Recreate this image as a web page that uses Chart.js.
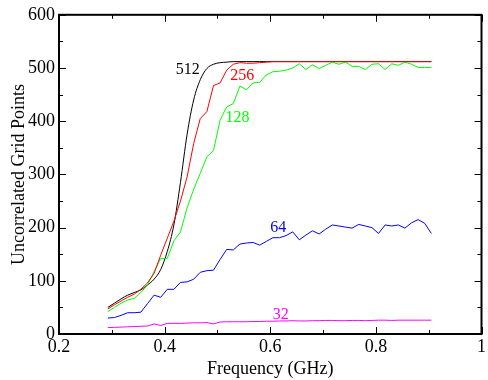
<!DOCTYPE html>
<html>
<head>
<meta charset="utf-8">
<script src="https://cdn.jsdelivr.net/npm/chart.js@4/dist/chart.umd.min.js"></script>
<style>
html,body{margin:0;padding:0;background:#fff;}
canvas{display:block;}
</style>
</head>
<body>
<canvas id="c" width="488" height="380"></canvas>
<script>
// ---- data ----
const freq = [0.2925,0.305,0.3175,0.33,0.3425,0.355,0.3675,0.38,0.3925,0.405,
  0.4175,0.43,0.4425,0.455,0.4675,0.48,0.4925,0.505,0.5175,0.53,
  0.5425,0.555,0.5675,0.58,0.5925,0.605,0.6175,0.63,0.6425,0.655,
  0.6675,0.68,0.6925,0.705,0.7175,0.73,0.7425,0.755,0.7675,0.78,
  0.7925,0.805,0.8175,0.83,0.8425,0.855,0.8675,0.88,0.8925,0.905];

const pts512 = [50,58,66,73,78,83,92,103,121,155,
  205,285,375,440,478,499,507,510,511,512,
  512,512,512,512,512,512,512,512,512,512,
  512,512,512,512,512,512,512,512,512,512,
  512,512,512,512,512,512,512,512,512,512];

const pts256 = [47,55,62,69,75,84,96,114,148,180,
  212,250,295,358,405,418,467,472,496,507,
  510,509,509,510,511,512,512,512,512,512,
  512,512,512,512,512,512,512,512,512,512,
  512,512,512,512,512,512,512,512,512,512];

const pts128 = [42,50,58,64,67,78,92,117,142,142,
  175,192,237,272,302,333,345,402,427,433,
  466,459,472,473,487,493,494,496,500,508,
  497,506,499,505,511,507,511,503,503,497,
  507,508,497,508,505,511,507,501,501,501];

const pts64 = [30,31,35,40,40,41,57,73,69,84,
  84,97,98,103,116,119,120,140,159,158,
  169,171,172,167,174,181,181,185,192,177,
  186,194,188,197,205,203,201,199,206,203,
  200,189,205,203,205,199,209,215,208,189];

const pts32 = [12,12.5,13,13.5,14,14.5,15,19,16,20,
  20,20,20.5,21,21,21.5,19,22.5,23,23,
  23,23,23.5,23.5,24,24,24.5,24.5,25,24.5,
  24.5,25,25,25.5,25.5,25,25,25.5,25.5,25,
  25.5,26,26,25.5,26,26,26,26,26,26];

const seriesNames = ['512','256','128','64','32'];
const seriesColors = ['#000000','#ff0000','#00ff00','#0000ff','#ff00ff'];
const labelX = [0.444,0.547,0.538,0.615,0.620];
const labelY = [497,486,407,199,36];

const xMajorTicks = [0.2,0.4,0.6,0.8,1.0];
const xMinorTicks = [0.3,0.5,0.7,0.9];
const yMajorTicks = [0,100,200,300,400,500,600];
const yMinorTicks = [50,150,250,350,450,550];

// ---- build chart ----
const allSeries = [pts512, pts256, pts128, pts64, pts32];
const drawOrder = [5,4,3,2,1];
const datasets = allSeries.map((arr, k) => ({
  label: seriesNames[k],
  data: arr.map((v, i) => ({x: freq[i], y: v})),
  borderColor: seriesColors[k],
  backgroundColor: seriesColors[k],
  borderWidth: 1,
  pointRadius: 0,
  fill: false,
  tension: 0,
  cubicInterpolationMode: k === 0 ? 'monotone' : 'default',
  order: k === 1 ? 0 : drawOrder[k]
}));

const FONT = "'Liberation Serif', 'DejaVu Serif', serif";

const decor = {
  id: 'decor',
  afterDatasetsDraw(chart) {
    const ctx = chart.ctx, a = chart.chartArea;
    const xs = chart.scales.x, ys = chart.scales.y;
    ctx.save();
    ctx.strokeStyle = '#000';
    ctx.lineWidth = 1;
    ctx.beginPath();
    const xt = (vals, len) => vals.forEach(v => {
      const p = Math.round(xs.getPixelForValue(v)) + 0.5;
      ctx.moveTo(p, a.bottom); ctx.lineTo(p, a.bottom - len);
      ctx.moveTo(p, a.top); ctx.lineTo(p, a.top + len);
    });
    const yt = (vals, len) => vals.forEach(v => {
      const p = Math.round(ys.getPixelForValue(v)) + 0.5;
      ctx.moveTo(a.left, p); ctx.lineTo(a.left + len, p);
      ctx.moveTo(a.right, p); ctx.lineTo(a.right - len, p);
    });
    xt(xMajorTicks, 7); xt(xMinorTicks, 4);
    yt(yMajorTicks, 7); yt(yMinorTicks, 4);
    ctx.stroke();
    ctx.lineWidth = 2;
    ctx.strokeRect(a.left, a.top, a.right - a.left, a.bottom - a.top);
    ctx.font = '16px ' + FONT;
    ctx.textAlign = 'center';
    ctx.textBaseline = 'middle';
    seriesNames.forEach((n, k) => {
      ctx.fillStyle = seriesColors[k];
      ctx.fillText(n, xs.getPixelForValue(labelX[k]), ys.getPixelForValue(labelY[k]));
    });
    ctx.restore();
  }
};

new Chart(document.getElementById('c'), {
  type: 'line',
  data: { datasets },
  options: {
    responsive: false,
    animation: false,
    devicePixelRatio: 1,
    layout: { padding: { left: 0, right: 2, top: 14, bottom: 0 } },
    plugins: { legend: { display: false }, tooltip: { enabled: false } },
    scales: {
      x: {
        type: 'linear',
        min: 0.2, max: 1.0,
        afterBuildTicks: s => { s.ticks = xMajorTicks.map(v => ({value: v})); },
        afterFit: s => { s.height = 46; },
        grid: { display: false, drawTicks: false },
        border: { display: false },
        ticks: {
          color: '#000',
          font: { family: FONT, size: 18 },
          padding: 2,
          maxRotation: 0,
          callback: v => (Math.abs(v - 1) < 1e-9 ? '1' : Number(v).toFixed(1))
        },
        title: {
          display: true, text: 'Frequency (GHz)', color: '#000',
          font: { family: FONT, size: 18 },
          padding: { top: 0, bottom: 0 }
        }
      },
      y: {
        type: 'linear',
        min: 0, max: 600,
        afterBuildTicks: s => { s.ticks = yMajorTicks.map(v => ({value: v})); },
        afterFit: s => { s.width = 59; },
        grid: { display: false, drawTicks: false },
        border: { display: false },
        ticks: {
          color: '#000',
          font: { family: FONT, size: 18 },
          padding: 4,
          callback: v => String(v)
        },
        title: {
          display: true, text: 'Uncorrelated Grid Points', color: '#000',
          font: { family: FONT, size: 18 },
          padding: { top: 8, bottom: 0 }
        }
      }
    }
  },
  plugins: [decor]
});
</script>
</body>
</html>
